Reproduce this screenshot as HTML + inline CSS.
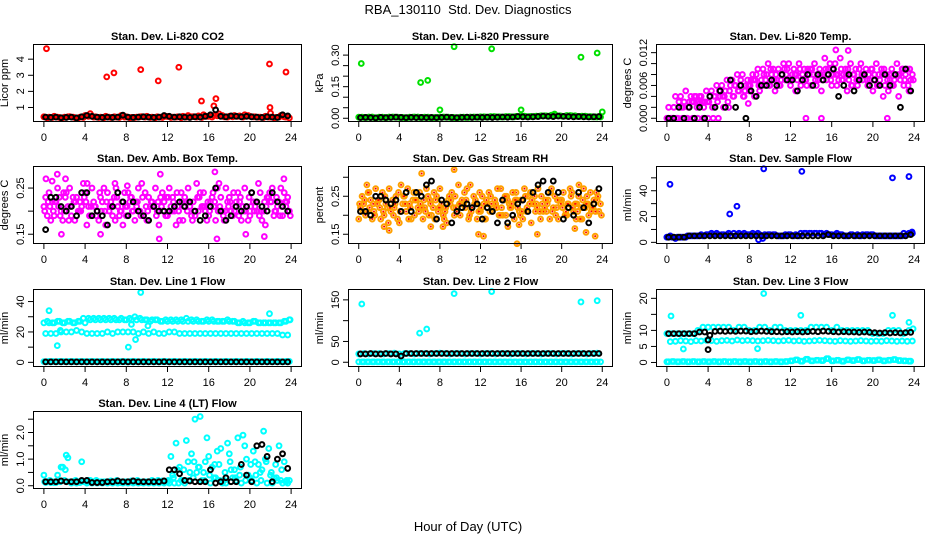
<!DOCTYPE html>
<html><head><meta charset="utf-8">
<style>
html,body{margin:0;padding:0;background:#fff;}
svg{display:block;font-family:"Liberation Sans",Arial,sans-serif;}
</style></head>
<body>
<svg id="chart" width="936" height="540" viewBox="0 0 936 540">
<text x="468" y="14" text-anchor="middle" font-size="13">RBA_130110&#160; Std. Dev. Diagnostics</text>
<text x="468" y="531" text-anchor="middle" font-size="13">Hour of Day (UTC)</text>
</svg>
<script>
const H0=[0,0.5,1,1.5,2,2.5,3,3.5,4,4.5,5,5.5,6,6.5,7,7.5,8,8.5,9,9.5,10,10.5,11,11.5,12,12.5,13,13.5,14,14.5,15,15.5,16,16.5,17,17.5,18,18.5,19,19.5,20,20.5,21,21.5,22,22.5,23,23.5];
const H1=[0.17,0.67,1.17,1.67,2.17,2.67,3.17,3.67,4.17,4.67,5.17,5.67,6.17,6.67,7.17,7.67,8.17,8.67,9.17,9.67,10.17,10.67,11.17,11.67,12.17,12.67,13.17,13.67,14.17,14.67,15.17,15.67,16.17,16.67,17.17,17.67,18.17,18.67,19.17,19.67,20.17,20.67,21.17,21.67,22.17,22.67,23.17,23.67];
const H2=[0.33,0.83,1.33,1.83,2.33,2.83,3.33,3.83,4.33,4.83,5.33,5.83,6.33,6.83,7.33,7.83,8.33,8.83,9.33,9.83,10.33,10.83,11.33,11.83,12.33,12.83,13.33,13.83,14.33,14.83,15.33,15.83,16.33,16.83,17.33,17.83,18.33,18.83,19.33,19.83,20.33,20.83,21.33,21.83,22.33,22.83,23.33,23.83];
const H3=[0.08,0.58,1.08,1.58,2.08,2.58,3.08,3.58,4.08,4.58,5.08,5.58,6.08,6.58,7.08,7.58,8.08,8.58,9.08,9.58,10.08,10.58,11.08,11.58,12.08,12.58,13.08,13.58,14.08,14.58,15.08,15.58,16.08,16.58,17.08,17.58,18.08,18.58,19.08,19.58,20.08,20.58,21.08,21.58,22.08,22.58,23.08,23.58];
const H4=[0.42,0.92,1.42,1.92,2.42,2.92,3.42,3.92,4.42,4.92,5.42,5.92,6.42,6.92,7.42,7.92,8.42,8.92,9.42,9.92,10.42,10.92,11.42,11.92,12.42,12.92,13.42,13.92,14.42,14.92,15.42,15.92,16.42,16.92,17.42,17.92,18.42,18.92,19.42,19.92,20.42,20.92,21.42,21.92,22.42,22.92,23.42,23.92];
const xTicks=[0,4,8,12,16,20,24];

// P1 CO2
const co2Red=[0.42,0.40,0.45,0.38,0.40,0.43,0.37,0.40,0.50,0.62,0.42,0.40,0.45,0.38,0.40,0.50,0.42,0.38,0.40,0.43,0.45,0.40,0.42,0.38,0.44,0.40,0.42,0.45,0.50,0.43,0.48,0.55,0.45,0.50,0.60,0.42,0.45,0.50,0.48,0.55,0.45,0.42,0.40,0.45,0.40,0.38,0.50,0.40];
const co2Red2=[0.35,0.38,0.40,0.36,0.42,0.40,0.35,0.38,0.45,0.40,0.38,0.36,0.40,0.42,0.38,0.40,0.36,0.38,0.42,0.40,0.38,0.36,0.40,0.45,0.38,0.40,0.36,0.40,0.42,0.40,0.38,0.45,0.40,0.48,0.50,0.40,0.42,0.45,0.40,0.50,0.42,0.40,0.38,0.40,0.36,0.40,0.42,0.35];
const co2Black=[0.40,0.38,0.40,0.36,0.38,0.40,0.35,0.42,0.50,0.45,0.40,0.38,0.40,0.38,0.40,0.52,0.40,0.38,0.40,0.42,0.40,0.38,0.40,0.50,0.45,0.40,0.42,0.40,0.38,0.42,0.40,0.45,0.55,0.85,0.45,0.42,0.48,0.45,0.42,0.45,0.42,0.40,0.38,0.42,0.40,0.38,0.55,0.48];
const co2OutX=[0.25,6.1,6.8,9.4,11.1,13.1,15.3,16.5,16.7,21.9,21.95,23.5,22.0];
const co2OutY=[4.65,2.9,3.15,3.35,2.65,3.5,1.4,1.1,1.55,3.7,1.0,3.2,0.65];
// P2 pressure
const presGreen=[0.005,0.004,0.006,0.003,0.005,0.004,0.006,0.005,0.004,0.003,0.005,0.006,0.004,0.005,0.003,0.004,0.006,0.005,0.004,0.003,0.005,0.004,0.006,0.005,0.007,0.006,0.008,0.007,0.006,0.008,0.007,0.009,0.010,0.008,0.009,0.010,0.012,0.011,0.015,0.012,0.010,0.013,0.012,0.009,0.010,0.008,0.007,0.006];
const presBlack=[0.003,0.004,0.003,0.002,0.004,0.003,0.004,0.005,0.004,0.003,0.004,0.003,0.004,0.003,0.004,0.003,0.004,0.005,0.004,0.003,0.004,0.005,0.004,0.005,0.004,0.005,0.004,0.005,0.006,0.005,0.006,0.008,0.007,0.006,0.007,0.008,0.010,0.009,0.008,0.010,0.009,0.008,0.007,0.008,0.007,0.006,0.007,0.008];
const presOutX=[0.25,6.1,6.8,8.0,9.4,13.1,16.0,21.9,23.5,24.0,19.3];
const presOutY=[0.26,0.17,0.18,0.04,0.34,0.33,0.04,0.29,0.31,0.03,0.02];
// P3 temp
const tempA=[0,0,0,0,0,0,0,0,0,0,0,0.002,0.002,0.004,0.005,0.004,0.005,0.004,0.005,0.006,0.006,0.005,0.006,0.007,0.006,0.005,0.006,0.007,0.006,0.006,0.005,0.007,0.006,0.006,0.007,0.005,0.006,0.006,0.007,0.006,0.005,0.006,0.004,0.005,0.006,0.004,0.006,0.005];
const tempB=[0.002,0.002,0.003,0.003,0.003,0.004,0.004,0.003,0.004,0.004,0.004,0.005,0.006,0.006,0.007,0.006,0.007,0.008,0.007,0.008,0.008,0.007,0.008,0.009,0.008,0.007,0.008,0.009,0.008,0.007,0.008,0.009,0.008,0.007,0.008,0.007,0.008,0.009,0.008,0.007,0.008,0.007,0.006,0.007,0.008,0.007,0.008,0.007];
const tempC=[0,0.004,0.004,0.005,0.004,0.004,0.004,0.005,0.005,0.006,0.006,0.007,0.007,0.008,0.008,0.007,0.008,0.009,0.009,0.010,0.009,0.009,0.010,0.010,0.009,0.010,0.009,0.008,0.010,0.009,0.011,0.010,0.010,0.011,0.009,0.010,0.009,0.010,0.009,0.009,0.010,0.009,0.008,0.009,0.010,0.009,0.009,0.008];
const tempD=[0,0,0,0.002,0.002,0.003,0.003,0.002,0.003,0.004,0.005,0.004,0.005,0.006,0.006,0.005,0.006,0.007,0.006,0.007,0.009,0.008,0.007,0.008,0.007,0.008,0.007,0.006,0.009,0.008,0.007,0.008,0.009,0.008,0.007,0.009,0.008,0.007,0.008,0.008,0.007,0.008,0.009,0.008,0.007,0.008,0.007,0.009];
const tempE=[0,0,0.002,0,0.003,0.002,0.003,0.003,0.002,0.003,0.004,0.003,0.004,0.005,0.004,0.006,0.007,0.006,0.008,0.006,0.007,0.006,0.009,0.007,0.008,0.009,0.007,0.009,0.007,0.008,0.009,0.007,0.008,0.009,0.008,0.006,0.007,0.008,0.007,0.009,0.006,0.008,0.007,0.006,0.008,0.009,0.006,0.007];
const tempBlack=[0,0,0.002,0,0.002,0,0.002,0,0.004,0.002,0.005,0.002,0.007,0.002,0.006,0,0.005,0.004,0.006,0.006,0.007,0.006,0.008,0.007,0.007,0.005,0.007,0.008,0.006,0.008,0.007,0.008,0.009,0.004,0.006,0.008,0.005,0.007,0.008,0.006,0.007,0.006,0.008,0.006,0.008,0.002,0.009,0.005];
const tempOutX=[13.5,15.0,21.4,3.2,16.4,17.6,7.9];
const tempOutY=[0,0,0,0.0027,0.0125,0.0124,0.0027];
// P4 amb box
const ambA=[0.21,0.24,0.19,0.23,0.20,0.25,0.18,0.22,0.24,0.19,0.21,0.23,0.17,0.22,0.25,0.20,0.19,0.23,0.21,0.26,0.18,0.22,0.20,0.24,0.19,0.23,0.21,0.18,0.25,0.22,0.20,0.24,0.19,0.21,0.26,0.18,0.23,0.20,0.22,0.25,0.19,0.21,0.24,0.17,0.22,0.20,0.25,0.21];
const ambB=[0.23,0.18,0.22,0.20,0.24,0.19,0.23,0.21,0.17,0.25,0.20,0.22,0.24,0.19,0.21,0.17,0.24,0.20,0.25,0.19,0.23,0.21,0.17,0.22,0.25,0.20,0.18,0.23,0.21,0.19,0.24,0.20,0.22,0.18,0.23,0.25,0.20,0.22,0.18,0.21,0.24,0.20,0.18,0.23,0.25,0.21,0.19,0.23];
const ambC=[0.19,0.22,0.25,0.18,0.21,0.23,0.20,0.26,0.21,0.22,0.18,0.25,0.20,0.23,0.19,0.24,0.22,0.18,0.20,0.24,0.21,0.25,0.23,0.19,0.21,0.17,0.24,0.22,0.19,0.26,0.21,0.18,0.23,0.25,0.20,0.22,0.19,0.24,0.21,0.18,0.22,0.26,0.20,0.23,0.19,0.22,0.24,0.20];
const ambD=[0.20,0.21,0.22,0.19,0.23,0.21,0.22,0.20,0.22,0.21,0.19,0.20,0.22,0.21,0.23,0.22,0.21,0.20,0.22,0.23,0.20,0.21,0.22,0.20,0.23,0.22,0.20,0.21,0.22,0.20,0.23,0.21,0.20,0.22,0.21,0.20,0.22,0.21,0.23,0.20,0.21,0.22,0.20,0.21,0.22,0.23,0.21,0.22];
const ambE=[0.22,0.20,0.21,0.24,0.18,0.22,0.20,0.23,0.19,0.21,0.24,0.20,0.21,0.18,0.20,0.21,0.23,0.22,0.19,0.21,0.22,0.19,0.21,0.23,0.20,0.24,0.22,0.20,0.18,0.23,0.21,0.22,0.24,0.20,0.19,0.21,0.24,0.19,0.20,0.23,0.20,0.19,0.22,0.24,0.20,0.19,0.22,0.19];
const ambOutX=[0.2,0.8,1.3,2.1,4.2,5.5,6.9,8.1,11.2,11.3,16.6,16.8,19.6,21.4,23.3,1.7];
const ambOutY=[0.27,0.265,0.28,0.27,0.26,0.15,0.26,0.255,0.14,0.28,0.285,0.14,0.15,0.145,0.27,0.15];
const ambBlack=[0.16,0.23,0.23,0.21,0.20,0.21,0.19,0.24,0.24,0.19,0.20,0.19,0.17,0.21,0.24,0.22,0.19,0.22,0.20,0.19,0.18,0.21,0.20,0.20,0.20,0.21,0.22,0.21,0.22,0.20,0.18,0.19,0.21,0.25,0.20,0.18,0.19,0.21,0.20,0.21,0.24,0.22,0.21,0.20,0.24,0.22,0.21,0.20];
// P5 RH
const rhA=[0.19,0.23,0.26,0.21,0.24,0.20,0.27,0.22,0.18,0.25,0.23,0.20,0.26,0.22,0.24,0.19,0.27,0.21,0.23,0.25,0.20,0.22,0.28,0.24,0.21,0.19,0.25,0.23,0.27,0.20,0.22,0.26,0.24,0.21,0.18,0.23,0.25,0.21,0.27,0.22,0.24,0.20,0.26,0.23,0.19,0.25,0.22,0.24];
const rhB=[0.22,0.20,0.24,0.27,0.19,0.23,0.21,0.25,0.28,0.21,0.19,0.24,0.22,0.27,0.20,0.25,0.23,0.18,0.26,0.21,0.24,0.27,0.22,0.19,0.25,0.23,0.21,0.27,0.20,0.24,0.26,0.22,0.19,0.25,0.23,0.27,0.21,0.24,0.22,0.19,0.26,0.23,0.21,0.25,0.27,0.20,0.24,0.21];
const rhC=[0.25,0.21,0.19,0.23,0.26,0.22,0.24,0.19,0.23,0.27,0.24,0.22,0.19,0.25,0.22,0.21,0.20,0.24,0.22,0.28,0.23,0.19,0.25,0.21,0.23,0.26,0.22,0.20,0.24,0.23,0.19,0.21,0.27,0.23,0.25,0.21,0.22,0.19,0.25,0.24,0.20,0.27,0.23,0.19,0.22,0.26,0.21,0.23];
const rhD=[0.23,0.24,0.22,0.20,0.22,0.25,0.22,0.23,0.21,0.23,0.22,0.24,0.23,0.21,0.23,0.24,0.22,0.22,0.24,0.22,0.23,0.24,0.21,0.23,0.22,0.24,0.23,0.22,0.22,0.25,0.23,0.24,0.21,0.22,0.24,0.22,0.23,0.23,0.21,0.24,0.22,0.23,0.22,0.21,0.24,0.23,0.22,0.25];
const rhE=[0.21,0.26,0.23,0.24,0.21,0.18,0.20,0.26,0.25,0.19,0.26,0.21,0.24,0.20,0.26,0.22,0.19,0.25,0.20,0.23,0.26,0.20,0.23,0.26,0.19,0.21,0.24,0.20,0.25,0.22,0.24,0.20,0.25,0.26,0.21,0.19,0.24,0.26,0.20,0.23,0.21,0.25,0.19,0.22,0.23,0.21,0.26,0.20];
const rhOutX=[0.8,2.5,3.0,7.1,8.3,9.4,11.8,12.3,14.7,15.6,15.8,17.6,21.3,21.7,22.4,23.3,6.2];
const rhOutY=[0.28,0.17,0.16,0.17,0.17,0.32,0.15,0.145,0.17,0.125,0.175,0.15,0.165,0.28,0.155,0.145,0.31];
const rhBlack=[0.21,0.21,0.20,0.25,0.25,0.24,0.23,0.24,0.21,0.26,0.21,0.26,0.25,0.28,0.29,0.19,0.24,0.23,0.18,0.21,0.22,0.23,0.22,0.23,0.19,0.22,0.21,0.18,0.24,0.18,0.20,0.23,0.24,0.21,0.26,0.28,0.29,0.26,0.29,0.26,0.19,0.22,0.20,0.26,0.22,0.18,0.23,0.27];
// P6 sample flow
const sfBlue=[4,4,4,4,5,5,5,5,6,6,6,6,7,7,7,7,6,6,6,6,6,6,5,6,6,6,7,7,7,7,7,7,6,7,6,5,6,6,6,6,6,5,5,5,5,5,7,7];
const sfBlue2=[5,3,4,4,5,5,6,6,7,7,6,6,5,6,6,6,7,7,5,6,6,5,5,6,5,5,7,7,7,7,6,6,6,6,5,6,5,5,6,6,5,5,5,5,5,5,6,7];
const sfBlack=[4,4,4,4,5,5,5,5,5,5,5,5,5,5,5,5,5,5,5,5,5,5,5,5,5,5,5,5,5,5,5,6,5,5,5,5,5,5,5,5,5,5,5,5,5,5,5,6];
const sfOutX=[0.3,6.1,6.8,9.4,13.1,21.9,23.5,8.9,9.3,23.8];
const sfOutY=[45,22,28,57,55,50,51,2,3,8];
// P7 line 1
const l1A=[26,26,26,27,26,27,26,27,26,28,28,28,28,28,28,29,28,28,28,28,28,28,28,27,27,27,27,27,27,27,27,27,27,27,27,27,27,27,26,26,26,27,26,26,26,26,26,27];
const l1A2=[27,26,27,26,27,26,27,29,29,29,29,29,29,29,28,28,29,30,29,28,27,28,27,28,28,28,28,29,28,28,27,28,28,27,27,28,27,26,27,26,27,26,26,26,26,26,27,28];
const l1B=[19,19,19,20,20,20,21,20,19,19,19,19,20,19,20,20,20,20,19,20,19,20,19,19,20,20,19,19,19,19,19,19,19,19,19,19,19,19,19,19,19,19,19,19,19,19,18,18];
const l1Zero=[0.5,0.6,0.5,0.6,0.5,0.6,0.5,0.6,0.5,0.6,0.5,0.6,0.5,0.6,0.5,0.6,0.5,0.6,0.5,0.6,0.5,0.6,0.5,0.6,0.5,0.6,0.5,0.6,0.5,0.6,0.5,0.6,0.5,0.6,0.5,0.6,0.5,0.6,0.5,0.6,0.5,0.6,0.5,0.6,0.5,0.6,0.5,0.6];
const l1Black=[0.3,0.3,0.3,0.3,0.3,0.3,0.3,0.3,0.3,0.3,0.3,0.3,0.3,0.3,0.3,0.4,0.3,0.3,0.3,0.3,0.3,0.3,0.3,0.4,0.3,0.3,0.3,0.3,0.3,0.3,0.3,0.3,0.3,0.3,0.3,0.3,0.3,0.3,0.3,0.3,0.3,0.3,0.3,0.3,0.3,0.3,0.3,0.3];
const l1OutX=[0.5,1.3,1.6,8.2,8.5,8.9,9.4,21.9,23.9,10.1];
const l1OutY=[34,11,21,10,25,15,46,32,28,24];
// P8 line 2
const l2A=[20,21,20,21,21,20,21,22,20,21,21,20,21,21,20,21,22,21,20,21,21,20,21,21,20,21,21,20,21,21,20,21,21,20,21,21,20,21,21,20,21,21,20,21,21,20,21,22];
const l2Zero=[1,1,1,1,1,1,1,1,1,1,1,1,1,1,1,1,1,1,1,1,1,1,1,1,1,1,1,1,1,1,1,1,1,1,1,1,1,1,1,1,1,1,1,1,1,1,1,1];
const l2Black=[20,20,21,20,20,21,20,20,15,21,21,21,21,21,21,21,21,21,21,21,21,21,21,21,21,21,21,21,21,21,21,21,21,21,21,21,21,21,21,21,21,21,21,21,21,21,21,21];
const l2OutX=[0.3,6.0,6.7,9.4,13.1,21.9,23.5];
const l2OutY=[140,70,80,165,170,145,148];
// P9 line 3
const l3A=[9,9,9,9,9,9,10,11,11,11,11,11,11,10,11,11,10,10,11,11,10,11,11,10,10,10,10,10,11,11,11,11,10,11,10,10,10,10,10,10,9,9,9,10,10,10,9,10];
const l3B=[6.5,6.6,6.8,6.7,6.5,6.8,6.7,6.9,6.8,6.6,6.8,6.9,6.7,7.0,6.8,6.9,6.8,6.7,6.8,6.9,6.8,6.7,6.8,6.9,6.7,6.8,6.6,6.7,6.8,6.9,6.8,6.7,6.6,6.8,6.7,6.6,6.7,6.8,6.7,6.6,6.7,6.6,6.8,6.7,6.6,6.7,6.6,6.7];
const l3Z=[0.2,0.3,0.2,0.3,0.2,0.3,0.2,0.3,0.2,0.3,0.2,0.3,0.2,0.3,0.2,0.3,0.2,0.3,0.2,0.3,0.2,0.3,0.2,0.3,0.5,0.8,0.4,1.0,0.5,0.7,0.6,1.2,0.5,0.7,0.4,0.8,0.6,0.9,0.5,0.7,0.6,0.8,0.5,0.7,0.9,0.6,0.5,0.4];
const l3Black=[9,9,9,9,9,9,9.5,9.5,8.5,9.7,9.8,9.7,9.8,9.7,9.8,9.8,9.6,9.7,9.8,9.7,9.6,9.6,9.5,9.6,9.5,9.6,9.5,9.6,9.7,9.6,9.8,9.7,9.6,9.5,9.6,9.5,9.5,9.4,9.5,9.4,9.3,9.2,9.3,9.2,9.3,9.2,9.3,9.4];
const l3BlackOutX=[4.0,4.0];
const l3BlackOutY=[7,4];
const l3OutX=[0.4,1.6,8.8,9.4,13.0,21.9,23.5,23.9];
const l3OutY=[14.5,4.2,4.3,21.5,14.7,14.7,12.5,10.5];
// P10 line 4
const l4A=[0.4,0.15,0.12,0.15,0.2,0.15,0.18,0.12,0.15,0.2,0.15,0.12,0.15,0.18,0.15,0.12,0.15,0.18,0.15,0.12,0.15,0.2,0.15,0.18,0.15,0.4,0.6,0.2,0.9,0.3,0.7,0.5,1.1,0.3,0.8,0.2,1.2,0.6,0.4,1.5,0.3,0.9,0.5,1.0,0.4,0.8,0.2,0.15];
const l4B=[0.15,0.15,0.4,0.7,1.05,0.15,0.15,0.15,0.2,0.15,0.15,0.15,0.15,0.15,0.15,0.15,0.15,0.15,0.15,0.15,0.15,0.15,0.15,0.15,1.1,1.6,0.2,1.7,1.2,0.5,0.2,1.8,0.7,1.3,0.1,1.6,0.3,1.8,1.9,0.4,1.3,0.8,2.05,1.4,0.3,1.5,0.9,0.2];
const l4C=[0.12,0.12,0.12,0.7,1.15,0.1,0.1,0.9,0.1,0.1,0.1,0.1,0.1,0.1,0.1,0.1,0.1,0.1,0.1,0.1,0.1,0.1,0.1,0.1,0.1,0.1,0.7,0.1,0.5,2.5,2.6,0.9,0.1,0.3,1.4,0.1,0.6,0.2,0.1,1.0,0.2,0.1,0.6,0.1,0.1,0.2,0.1,0.1];
const l4D=[0.15,0.2,0.15,0.15,0.6,0.15,0.2,0.15,0.15,0.15,0.2,0.15,0.15,0.15,0.2,0.15,0.15,0.15,0.2,0.15,0.15,0.15,0.2,0.15,0.2,0.3,0.1,0.6,0.2,0.9,0.7,0.2,0.4,0.8,0.2,0.5,0.9,0.3,0.7,0.2,0.8,0.4,0.2,0.9,0.5,0.3,0.6,0.2];
const l4Black=[0.15,0.15,0.15,0.18,0.15,0.15,0.15,0.2,0.2,0.12,0.12,0.12,0.15,0.15,0.18,0.15,0.15,0.18,0.15,0.15,0.15,0.15,0.15,0.18,0.6,0.6,0.45,0.2,0.18,0.15,0.15,0.15,0.6,0.1,0.15,0.3,0.15,0.15,0.8,0.4,0.15,1.5,1.55,1.1,0.15,1.0,1.2,0.65];

const NS='http://www.w3.org/2000/svg';
const svg=document.getElementById('chart');
function mk(tag,attrs,parent){const e=document.createElementNS(NS,tag);for(const k in attrs)e.setAttribute(k,attrs[k]);(parent||svg).appendChild(e);return e;}

const cols=[[34,301],[349,612],[657,924]];
const rowTops=[45,167,290,412];
const PH=76;
const MAG='#ff00ff',CY='#00ffff',BLK='#000000';

const panels=[
 {name:'co2',title:'Stan. Dev. Li-820 CO2',yt:'Licor ppm',c:0,r:0,dom:[0.16,4.88],ticks:[1,2,3,4],labels:['1','2','3','4'],
  series:[[H0,co2Red,'#ff0000'],[H2,co2Red2,'#ff0000'],[co2OutX,co2OutY,'#ff0000'],[H1,co2Black,BLK]]},
 {name:'pressure',title:'Stan. Dev. Li-820 Pressure',yt:'kPa',c:1,r:0,dom:[-0.013,0.348],ticks:[0,0.05,0.1,0.15,0.2,0.25,0.3],labels:['0.00','','','0.15','','','0.30'],
  series:[[H0,presGreen,'#00e000'],[H2,presGreen,'#00e000'],[presOutX,presOutY,'#00e000'],[H1,presBlack,BLK]]},
 {name:'temp',title:'Stan. Dev. Li-820 Temp.',yt:'degrees C',c:2,r:0,dom:[-0.0005,0.0134],ticks:[0,0.002,0.004,0.006,0.008,0.01,0.012],labels:['0.000','','','0.006','','','0.012'],
  series:[[H0,tempA,MAG],[H1,tempB,MAG],[H2,tempC,MAG],[H3,tempD,MAG],[H4,tempE,MAG],[tempOutX,tempOutY,MAG],[H1,tempBlack,BLK]]},
 {name:'amb-box-temp',title:'Stan. Dev. Amb. Box Temp.',yt:'degrees C',c:0,r:1,dom:[0.131,0.2956],ticks:[0.15,0.2,0.25],labels:['0.15','','0.25'],
  series:[[H0,ambA,MAG],[H1,ambB,MAG],[H2,ambC,MAG],[H3,ambD,MAG],[H4,ambE,MAG],[ambOutX,ambOutY,MAG],[H1,ambBlack,BLK]]},
 {name:'gas-rh',title:'Stan. Dev. Gas Stream RH',yt:'percent',c:1,r:1,dom:[0.127,0.327],ticks:[0.15,0.2,0.25,0.3],labels:['0.15','','0.25',''],
  series:[[H0,rhA,'#ffa000'],[H1,rhB,'#ffa000'],[H2,rhC,'#ffa000'],[H3,rhD,'#ffa000'],[H4,rhE,'#ffa000'],[rhOutX,rhOutY,'#ffa000'],[H1,rhBlack,BLK]],rhDots:true},
 {name:'sample-flow',title:'Stan. Dev. Sample Flow',yt:'ml/min',c:2,r:1,dom:[-0.5,58.4],ticks:[0,10,20,30,40,50],labels:['0','','20','','40',''],
  series:[[H0,sfBlue,'#0000ff'],[H2,sfBlue2,'#0000ff'],[sfOutX,sfOutY,'#0000ff'],[H1,sfBlack,BLK]]},
 {name:'line1-flow',title:'Stan. Dev. Line 1 Flow',yt:'ml/min',c:0,r:2,dom:[-2.4,47.6],ticks:[0,10,20,30,40],labels:['0','','20','','40'],
  series:[[H0,l1A,CY],[H2,l1A2,CY],[H1,l1B,CY],[H0,l1Zero,CY],[H2,l1Zero,CY],[l1OutX,l1OutY,CY],[H1,l1Black,BLK]]},
 {name:'line2-flow',title:'Stan. Dev. Line 2 Flow',yt:'ml/min',c:1,r:2,dom:[-9,173.7],ticks:[0,50,100,150],labels:['0','50','','150'],
  series:[[H0,l2A,CY],[H0,l2Zero,CY],[H2,l2Zero,CY],[l2OutX,l2OutY,CY],[H1,l2Black,BLK]]},
 {name:'line3-flow',title:'Stan. Dev. Line 3 Flow',yt:'ml/min',c:2,r:2,dom:[-1.1,22.6],ticks:[0,5,10,15,20],labels:['0','5','10','','20'],
  series:[[H0,l3A,CY],[H2,l3B,CY],[H1,l3Z,CY],[H0,l3Z,CY],[l3OutX,l3OutY,CY],[H1,l3Black,BLK],[l3BlackOutX,l3BlackOutY,BLK]]},
 {name:'line4-flow',title:'Stan. Dev. Line 4 (LT) Flow',yt:'ml/min',c:0,r:3,dom:[-0.085,2.77],ticks:[0,0.5,1,1.5,2,2.5],labels:['0.0','','1.0','','2.0',''],
  series:[[H0,l4A,CY],[H2,l4B,CY],[H1,l4C,CY],[H3,l4D,CY],[H1,l4Black,BLK]]}
];

panels.forEach(p=>{
  const x0=cols[p.c][0],x1=cols[p.c][1],y0=rowTops[p.r],y1=y0+PH;
  const g=mk('g',{});
  
  
  const sx=v=>x0+(v+0.96)/25.92*(x1-x0);
  const sy=v=>y1-(v-p.dom[0])/(p.dom[1]-p.dom[0])*(y1-y0);
  const t=mk('text',{x:(x0+x1)/2,y:y0-5,'text-anchor':'middle','font-size':11,'font-weight':'bold'},g);
  t.textContent=p.title;
  
  
  const xa=mk('g',{stroke:'#000','stroke-width':1},g);
  
  
  mk('line',{x1:sx(0),x2:sx(24),y1:y1+0.5,y2:y1+0.5},xa);
  xTicks.forEach(v=>{
    mk('line',{x1:sx(v),x2:sx(v),y1:y1,y2:y1+6},xa);
    const l=mk('text',{x:sx(v),y:y1+20,'text-anchor':'middle','font-size':11,stroke:'none',fill:'#000'},xa);
    l.textContent=v;
    
    
  });
  const ya=mk('g',{stroke:'#000','stroke-width':1},g);
  
  
  mk('line',{x1:x0-0.5,x2:x0-0.5,y1:sy(p.ticks[0]),y2:sy(p.ticks[p.ticks.length-1])},ya);
  p.ticks.forEach((v,i)=>{
    const y=sy(v);
    mk('line',{x1:x0-6,x2:x0,y1:y,y2:y},ya);
    if(p.labels[i]){
      const l=mk('text',{x:x0-10,y:y,'text-anchor':'middle','font-size':11,stroke:'none',fill:'#000',transform:'rotate(-90 '+(x0-10)+' '+y+')'},ya);
      l.textContent=p.labels[i];
      
      
    }
  });
  const yt=mk('text',{x:x0-26,y:(y0+y1)/2,'text-anchor':'middle','font-size':11,transform:'rotate(-90 '+(x0-26)+' '+((y0+y1)/2)+')'},g);
  yt.textContent=p.yt;
  
  
  p.series.forEach(s=>{
    const sg=mk('g',{fill:'none',stroke:s[2],'stroke-width':2},g);
    
    
    s[0].forEach((xv,i)=>{
      const c=mk('circle',{cx:sx(xv),cy:sy(s[1][i]),r:2.4},sg);
      
      
      if(p.rhDots && s[2]!==BLK){
        const d=mk('circle',{cx:sx(xv),cy:sy(s[1][i]),r:1,fill:'#ff0000',stroke:'none'},sg);
        
        
      }
    });
  });
  const box=mk('rect',{x:x0-0.5,y:y0-0.5,width:x1-x0+1,height:PH+1,fill:'none',stroke:'#000','stroke-width':1},g);
  
  
});
</script>
</body></html>
